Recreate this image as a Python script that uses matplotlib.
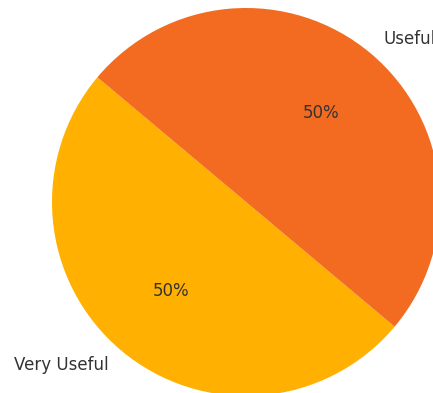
import matplotlib
matplotlib.use("Agg")
import matplotlib.pyplot as plt

labels = ["Very Useful", "Useful"]
values = [50, 50]
colors = ["#FFB000", "#F26B21"]

W, H = 433, 393
fig = plt.figure(figsize=(W / 100, H / 100), dpi=100)

# square axes in pixels, centred on the pie; radius 1 unit = 194 px
r_px = 194
span = 1.25
side = 2 * span * r_px
cx, cy = 246, H - 202
ax = fig.add_axes([(cx - side / 2) / W, (cy - side / 2) / H, side / W, side / H])

ax.pie(values, labels=labels, colors=colors, startangle=140,
       autopct="%1.0f%%", pctdistance=0.6, labeldistance=1.1,
       textprops={"color": "#333333", "fontsize": 12})
ax.set_xlim(-span, span)
ax.set_ylim(-span, span)
ax.set_aspect("equal")
ax.axis("off")

fig.savefig("out.png", dpi=100)
